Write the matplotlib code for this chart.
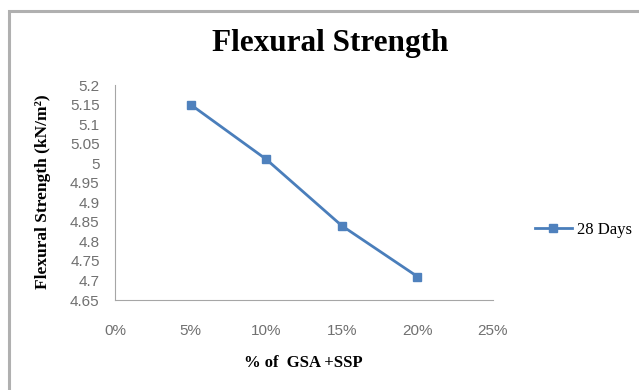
import matplotlib
matplotlib.use("Agg")
import matplotlib.pyplot as plt
from matplotlib.patches import Rectangle
from matplotlib.ticker import PercentFormatter

# Flexural strength at 28 days vs replacement level
replacement = [0.05, 0.10, 0.15, 0.20]
strength_28d = [5.15, 5.01, 4.84, 4.71]
series_name = "28 Days"
y_ticks = [4.65, 4.7, 4.75, 4.8, 4.85, 4.9, 4.95, 5, 5.05, 5.1, 5.15, 5.2]
y_tick_labels = ["4.65", "4.7", "4.75", "4.8", "4.85", "4.9", "4.95", "5", "5.05", "5.1", "5.15", "5.2"]
x_ticks = [0, 0.05, 0.10, 0.15, 0.20, 0.25]

fig = plt.figure(figsize=(6.39, 3.9), dpi=100)
W, H = 639, 390

# outer chart border
fig.patches.append(Rectangle((9 / W, 0 - 0.02), 1.0, (H - 11) / H + 0.02,
                             transform=fig.transFigure, fill=False,
                             edgecolor="#b0b0b0", linewidth=2.2))

ax = fig.add_axes([115 / W, 1 - 300 / H, (493 - 115) / W, (300 - 85) / H])
line_color = "#4a7ebb"
ax.plot(replacement, strength_28d, color=line_color, linewidth=2,
        marker="s", markersize=6, markerfacecolor="#4f81bd",
        markeredgecolor="#4f81bd", label=series_name)

ax.set_xlim(0, 0.25)
ax.set_ylim(4.65, 5.2)
ax.set_xticks(x_ticks)
ax.xaxis.set_major_formatter(PercentFormatter(1.0, decimals=0))
ax.set_yticks(y_ticks)
ax.set_yticklabels(y_tick_labels)

for s in ["top", "right"]:
    ax.spines[s].set_visible(False)
for s in ["left", "bottom"]:
    ax.spines[s].set_color("#a6a6a6")
    ax.spines[s].set_linewidth(0.8)

ax.tick_params(axis="both", length=0, labelsize=11, labelcolor="#707070",
               labelfontfamily="Liberation Sans")
ax.tick_params(axis="x", pad=17)
ax.tick_params(axis="y", pad=11)

fig.text(330 / W, 1 - 44 / H, "Flexural Strength", ha="center", va="center",
         fontsize=22.5, fontweight="bold", family="Liberation Serif")
fig.text(303 / W, 1 - 363 / H, "% of  GSA +SSP", ha="center", va="center",
         fontsize=12, fontweight="bold", family="Liberation Serif")
fig.text(43 / W, 1 - 192 / H, "Flexural Strength (kN/m²)", ha="center",
         va="center", rotation=90, fontsize=12.5, fontweight="bold",
         family="Liberation Serif")

leg = fig.legend(loc="center left", bbox_to_anchor=(535 / W, 1 - 230 / H),
                 frameon=False, prop={"family": "Liberation Serif", "size": 12},
                 handlelength=2.2, handletextpad=0.3, borderpad=0, borderaxespad=0)

fig.savefig("out.png", dpi=100, facecolor="white")
